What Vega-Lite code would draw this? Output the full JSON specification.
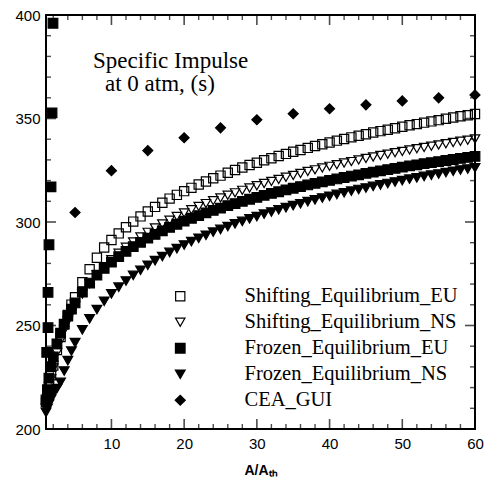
{
  "$schema": "https://vega.github.io/schema/vega-lite/v6.json",
  "width": 429,
  "height": 414,
  "autosize": "none",
  "padding": {"left": 46, "top": 15, "right": 11, "bottom": 49},
  "background": "white",
  "config": {
    "view": {"stroke": "black", "strokeWidth": 2},
    "axis": {"domain": false, "grid": false, "ticks": false, "title": null, "labelFont": "Liberation Sans", "labelFontSize": 15, "labelColor": "black", "labelOverlap": false}
  },
  "datasets": {
    "xmaj": [{"v":10},{"v":20},{"v":30},{"v":40},{"v":50}],
    "xmin": [{"v":2},{"v":4},{"v":6},{"v":8},{"v":12},{"v":14},{"v":16},{"v":18},{"v":22},{"v":24},{"v":26},{"v":28},{"v":32},{"v":34},{"v":36},{"v":38},{"v":42},{"v":44},{"v":46},{"v":48},{"v":52},{"v":54},{"v":56},{"v":58}],
    "ymaj": [{"v":250},{"v":300},{"v":350}],
    "ymin": [{"v":210},{"v":220},{"v":230},{"v":240},{"v":260},{"v":270},{"v":280},{"v":290},{"v":310},{"v":320},{"v":330},{"v":340},{"v":360},{"v":370},{"v":380},{"v":390}],
    "d": [
      {"s":"Shifting_Equilibrium_EU","x":1,"y":213},{"s":"Shifting_Equilibrium_EU","x":1.2,"y":217.2},{"s":"Shifting_Equilibrium_EU","x":1.4,"y":220.4},{"s":"Shifting_Equilibrium_EU","x":1.7,"y":226},{"s":"Shifting_Equilibrium_EU","x":2,"y":230.6},{"s":"Shifting_Equilibrium_EU","x":2.5,"y":238.2},{"s":"Shifting_Equilibrium_EU","x":3,"y":244.4},{"s":"Shifting_Equilibrium_EU","x":3.5,"y":250.6},{"s":"Shifting_Equilibrium_EU","x":4,"y":255.1},{"s":"Shifting_Equilibrium_EU","x":4.5,"y":260.1},{"s":"Shifting_Equilibrium_EU","x":5,"y":263.7},{"s":"Shifting_Equilibrium_EU","x":6,"y":270.9},{"s":"Shifting_Equilibrium_EU","x":7,"y":277.2},{"s":"Shifting_Equilibrium_EU","x":8,"y":282.7},{"s":"Shifting_Equilibrium_EU","x":9,"y":287.7},{"s":"Shifting_Equilibrium_EU","x":10,"y":291.3},{"s":"Shifting_Equilibrium_EU","x":11,"y":294.5},{"s":"Shifting_Equilibrium_EU","x":12,"y":297.5},{"s":"Shifting_Equilibrium_EU","x":13,"y":300.2},{"s":"Shifting_Equilibrium_EU","x":14,"y":302.7},{"s":"Shifting_Equilibrium_EU","x":15,"y":305.1},{"s":"Shifting_Equilibrium_EU","x":16,"y":307.3},{"s":"Shifting_Equilibrium_EU","x":17,"y":309.3},{"s":"Shifting_Equilibrium_EU","x":18,"y":311.3},{"s":"Shifting_Equilibrium_EU","x":19,"y":313.1},{"s":"Shifting_Equilibrium_EU","x":20,"y":314.9},{"s":"Shifting_Equilibrium_EU","x":21,"y":316.5},{"s":"Shifting_Equilibrium_EU","x":22,"y":318.1},{"s":"Shifting_Equilibrium_EU","x":23,"y":319.6},{"s":"Shifting_Equilibrium_EU","x":24,"y":321.1},{"s":"Shifting_Equilibrium_EU","x":25,"y":322.4},{"s":"Shifting_Equilibrium_EU","x":26,"y":323.8},{"s":"Shifting_Equilibrium_EU","x":27,"y":325.1},{"s":"Shifting_Equilibrium_EU","x":28,"y":326.3},{"s":"Shifting_Equilibrium_EU","x":29,"y":327.5},{"s":"Shifting_Equilibrium_EU","x":30,"y":328.6},{"s":"Shifting_Equilibrium_EU","x":31,"y":329.8},{"s":"Shifting_Equilibrium_EU","x":32,"y":330.8},{"s":"Shifting_Equilibrium_EU","x":33,"y":331.9},{"s":"Shifting_Equilibrium_EU","x":34,"y":332.9},{"s":"Shifting_Equilibrium_EU","x":35,"y":333.9},{"s":"Shifting_Equilibrium_EU","x":36,"y":334.8},{"s":"Shifting_Equilibrium_EU","x":37,"y":335.8},{"s":"Shifting_Equilibrium_EU","x":38,"y":336.7},{"s":"Shifting_Equilibrium_EU","x":39,"y":337.6},{"s":"Shifting_Equilibrium_EU","x":40,"y":338.4},{"s":"Shifting_Equilibrium_EU","x":41,"y":339.3},{"s":"Shifting_Equilibrium_EU","x":42,"y":340.1},{"s":"Shifting_Equilibrium_EU","x":43,"y":340.9},{"s":"Shifting_Equilibrium_EU","x":44,"y":341.7},{"s":"Shifting_Equilibrium_EU","x":45,"y":342.4},{"s":"Shifting_Equilibrium_EU","x":46,"y":343.2},{"s":"Shifting_Equilibrium_EU","x":47,"y":343.9},{"s":"Shifting_Equilibrium_EU","x":48,"y":344.6},{"s":"Shifting_Equilibrium_EU","x":49,"y":345.3},{"s":"Shifting_Equilibrium_EU","x":50,"y":346.0},{"s":"Shifting_Equilibrium_EU","x":51,"y":346.7},{"s":"Shifting_Equilibrium_EU","x":52,"y":347.3},{"s":"Shifting_Equilibrium_EU","x":53,"y":348.0},{"s":"Shifting_Equilibrium_EU","x":54,"y":348.6},{"s":"Shifting_Equilibrium_EU","x":55,"y":349.2},{"s":"Shifting_Equilibrium_EU","x":56,"y":349.9},{"s":"Shifting_Equilibrium_EU","x":57,"y":350.5},{"s":"Shifting_Equilibrium_EU","x":58,"y":351.1},{"s":"Shifting_Equilibrium_EU","x":59,"y":351.6},{"s":"Shifting_Equilibrium_EU","x":60,"y":352.2},
      {"s":"Shifting_Equilibrium_NS","x":1,"y":210},{"s":"Shifting_Equilibrium_NS","x":1.2,"y":214.9},{"s":"Shifting_Equilibrium_NS","x":1.4,"y":218.9},{"s":"Shifting_Equilibrium_NS","x":1.7,"y":224.2},{"s":"Shifting_Equilibrium_NS","x":2,"y":229.5},{"s":"Shifting_Equilibrium_NS","x":2.5,"y":236.8},{"s":"Shifting_Equilibrium_NS","x":3,"y":242.7},{"s":"Shifting_Equilibrium_NS","x":3.5,"y":247.7},{"s":"Shifting_Equilibrium_NS","x":4,"y":252.1},{"s":"Shifting_Equilibrium_NS","x":4.5,"y":255.9},{"s":"Shifting_Equilibrium_NS","x":5,"y":259.3},{"s":"Shifting_Equilibrium_NS","x":6,"y":265.2},{"s":"Shifting_Equilibrium_NS","x":7,"y":270.2},{"s":"Shifting_Equilibrium_NS","x":8,"y":274.6},{"s":"Shifting_Equilibrium_NS","x":9,"y":278.4},{"s":"Shifting_Equilibrium_NS","x":10,"y":281.8},{"s":"Shifting_Equilibrium_NS","x":11,"y":284.9},{"s":"Shifting_Equilibrium_NS","x":12,"y":287.8},{"s":"Shifting_Equilibrium_NS","x":13,"y":290.4},{"s":"Shifting_Equilibrium_NS","x":14,"y":292.8},{"s":"Shifting_Equilibrium_NS","x":15,"y":295.0},{"s":"Shifting_Equilibrium_NS","x":16,"y":297.1},{"s":"Shifting_Equilibrium_NS","x":17,"y":299.1},{"s":"Shifting_Equilibrium_NS","x":18,"y":300.9},{"s":"Shifting_Equilibrium_NS","x":19,"y":302.7},{"s":"Shifting_Equilibrium_NS","x":20,"y":304.4},{"s":"Shifting_Equilibrium_NS","x":21,"y":305.9},{"s":"Shifting_Equilibrium_NS","x":22,"y":307.5},{"s":"Shifting_Equilibrium_NS","x":23,"y":308.9},{"s":"Shifting_Equilibrium_NS","x":24,"y":310.3},{"s":"Shifting_Equilibrium_NS","x":25,"y":311.6},{"s":"Shifting_Equilibrium_NS","x":26,"y":312.9},{"s":"Shifting_Equilibrium_NS","x":27,"y":314.1},{"s":"Shifting_Equilibrium_NS","x":28,"y":315.3},{"s":"Shifting_Equilibrium_NS","x":29,"y":316.4},{"s":"Shifting_Equilibrium_NS","x":30,"y":317.5},{"s":"Shifting_Equilibrium_NS","x":31,"y":318.6},{"s":"Shifting_Equilibrium_NS","x":32,"y":319.6},{"s":"Shifting_Equilibrium_NS","x":33,"y":320.6},{"s":"Shifting_Equilibrium_NS","x":34,"y":321.6},{"s":"Shifting_Equilibrium_NS","x":35,"y":322.5},{"s":"Shifting_Equilibrium_NS","x":36,"y":323.5},{"s":"Shifting_Equilibrium_NS","x":37,"y":324.4},{"s":"Shifting_Equilibrium_NS","x":38,"y":325.2},{"s":"Shifting_Equilibrium_NS","x":39,"y":326.1},{"s":"Shifting_Equilibrium_NS","x":40,"y":326.9},{"s":"Shifting_Equilibrium_NS","x":41,"y":327.7},{"s":"Shifting_Equilibrium_NS","x":42,"y":328.5},{"s":"Shifting_Equilibrium_NS","x":43,"y":329.2},{"s":"Shifting_Equilibrium_NS","x":44,"y":330.0},{"s":"Shifting_Equilibrium_NS","x":45,"y":330.7},{"s":"Shifting_Equilibrium_NS","x":46,"y":331.4},{"s":"Shifting_Equilibrium_NS","x":47,"y":332.1},{"s":"Shifting_Equilibrium_NS","x":48,"y":332.8},{"s":"Shifting_Equilibrium_NS","x":49,"y":333.5},{"s":"Shifting_Equilibrium_NS","x":50,"y":334.1},{"s":"Shifting_Equilibrium_NS","x":51,"y":334.8},{"s":"Shifting_Equilibrium_NS","x":52,"y":335.4},{"s":"Shifting_Equilibrium_NS","x":53,"y":336.0},{"s":"Shifting_Equilibrium_NS","x":54,"y":336.6},{"s":"Shifting_Equilibrium_NS","x":55,"y":337.2},{"s":"Shifting_Equilibrium_NS","x":56,"y":337.8},{"s":"Shifting_Equilibrium_NS","x":57,"y":338.4},{"s":"Shifting_Equilibrium_NS","x":58,"y":339.0},{"s":"Shifting_Equilibrium_NS","x":59,"y":339.5},{"s":"Shifting_Equilibrium_NS","x":60,"y":340.1},
      {"s":"Frozen_Equilibrium_EU","x":1,"y":214},{"s":"Frozen_Equilibrium_EU","x":1.2,"y":219},{"s":"Frozen_Equilibrium_EU","x":1.4,"y":224.6},{"s":"Frozen_Equilibrium_EU","x":1.7,"y":230.1},{"s":"Frozen_Equilibrium_EU","x":2,"y":234.8},{"s":"Frozen_Equilibrium_EU","x":2.5,"y":241.1},{"s":"Frozen_Equilibrium_EU","x":3,"y":246.3},{"s":"Frozen_Equilibrium_EU","x":3.5,"y":250.7},{"s":"Frozen_Equilibrium_EU","x":4,"y":254.5},{"s":"Frozen_Equilibrium_EU","x":4.5,"y":257.9},{"s":"Frozen_Equilibrium_EU","x":5,"y":260.9},{"s":"Frozen_Equilibrium_EU","x":6,"y":266.1},{"s":"Frozen_Equilibrium_EU","x":7,"y":270.5},{"s":"Frozen_Equilibrium_EU","x":8,"y":274.3},{"s":"Frozen_Equilibrium_EU","x":9,"y":277.6},{"s":"Frozen_Equilibrium_EU","x":10,"y":280.6},{"s":"Frozen_Equilibrium_EU","x":11,"y":283.3},{"s":"Frozen_Equilibrium_EU","x":12,"y":285.8},{"s":"Frozen_Equilibrium_EU","x":13,"y":288.1},{"s":"Frozen_Equilibrium_EU","x":14,"y":290.2},{"s":"Frozen_Equilibrium_EU","x":15,"y":292.2},{"s":"Frozen_Equilibrium_EU","x":16,"y":294.0},{"s":"Frozen_Equilibrium_EU","x":17,"y":295.7},{"s":"Frozen_Equilibrium_EU","x":18,"y":297.4},{"s":"Frozen_Equilibrium_EU","x":19,"y":298.9},{"s":"Frozen_Equilibrium_EU","x":20,"y":300.4},{"s":"Frozen_Equilibrium_EU","x":21,"y":301.8},{"s":"Frozen_Equilibrium_EU","x":22,"y":303.1},{"s":"Frozen_Equilibrium_EU","x":23,"y":304.4},{"s":"Frozen_Equilibrium_EU","x":24,"y":305.6},{"s":"Frozen_Equilibrium_EU","x":25,"y":306.7},{"s":"Frozen_Equilibrium_EU","x":26,"y":307.9},{"s":"Frozen_Equilibrium_EU","x":27,"y":308.9},{"s":"Frozen_Equilibrium_EU","x":28,"y":310.0},{"s":"Frozen_Equilibrium_EU","x":29,"y":311.0},{"s":"Frozen_Equilibrium_EU","x":30,"y":311.9},{"s":"Frozen_Equilibrium_EU","x":31,"y":312.9},{"s":"Frozen_Equilibrium_EU","x":32,"y":313.8},{"s":"Frozen_Equilibrium_EU","x":33,"y":314.6},{"s":"Frozen_Equilibrium_EU","x":34,"y":315.5},{"s":"Frozen_Equilibrium_EU","x":35,"y":316.3},{"s":"Frozen_Equilibrium_EU","x":36,"y":317.1},{"s":"Frozen_Equilibrium_EU","x":37,"y":317.9},{"s":"Frozen_Equilibrium_EU","x":38,"y":318.7},{"s":"Frozen_Equilibrium_EU","x":39,"y":319.4},{"s":"Frozen_Equilibrium_EU","x":40,"y":320.1},{"s":"Frozen_Equilibrium_EU","x":41,"y":320.8},{"s":"Frozen_Equilibrium_EU","x":42,"y":321.5},{"s":"Frozen_Equilibrium_EU","x":43,"y":322.2},{"s":"Frozen_Equilibrium_EU","x":44,"y":322.8},{"s":"Frozen_Equilibrium_EU","x":45,"y":323.5},{"s":"Frozen_Equilibrium_EU","x":46,"y":324.1},{"s":"Frozen_Equilibrium_EU","x":47,"y":324.7},{"s":"Frozen_Equilibrium_EU","x":48,"y":325.3},{"s":"Frozen_Equilibrium_EU","x":49,"y":325.9},{"s":"Frozen_Equilibrium_EU","x":50,"y":326.5},{"s":"Frozen_Equilibrium_EU","x":51,"y":327.1},{"s":"Frozen_Equilibrium_EU","x":52,"y":327.6},{"s":"Frozen_Equilibrium_EU","x":53,"y":328.2},{"s":"Frozen_Equilibrium_EU","x":54,"y":328.7},{"s":"Frozen_Equilibrium_EU","x":55,"y":329.2},{"s":"Frozen_Equilibrium_EU","x":56,"y":329.7},{"s":"Frozen_Equilibrium_EU","x":57,"y":330.2},{"s":"Frozen_Equilibrium_EU","x":58,"y":330.7},{"s":"Frozen_Equilibrium_EU","x":59,"y":331.2},{"s":"Frozen_Equilibrium_EU","x":60,"y":331.7},
      {"s":"Frozen_Equilibrium_EU","x":1.96,"y":396},{"s":"Frozen_Equilibrium_EU","x":1.83,"y":352.7},{"s":"Frozen_Equilibrium_EU","x":1.69,"y":317},{"s":"Frozen_Equilibrium_EU","x":1.41,"y":289},{"s":"Frozen_Equilibrium_EU","x":1.28,"y":266},{"s":"Frozen_Equilibrium_EU","x":1.28,"y":249},{"s":"Frozen_Equilibrium_EU","x":1.1,"y":237},
      {"s":"Frozen_Equilibrium_NS","x":1,"y":208},{"s":"Frozen_Equilibrium_NS","x":1.2,"y":210},{"s":"Frozen_Equilibrium_NS","x":1.4,"y":212},{"s":"Frozen_Equilibrium_NS","x":1.7,"y":214.5},{"s":"Frozen_Equilibrium_NS","x":2,"y":217},{"s":"Frozen_Equilibrium_NS","x":2.5,"y":219.5},{"s":"Frozen_Equilibrium_NS","x":3,"y":222.5},{"s":"Frozen_Equilibrium_NS","x":3.5,"y":228},{"s":"Frozen_Equilibrium_NS","x":4,"y":233},{"s":"Frozen_Equilibrium_NS","x":4.5,"y":237.6},{"s":"Frozen_Equilibrium_NS","x":5,"y":241.7},{"s":"Frozen_Equilibrium_NS","x":6,"y":247.9},{"s":"Frozen_Equilibrium_NS","x":7,"y":253.2},{"s":"Frozen_Equilibrium_NS","x":8,"y":257.7},{"s":"Frozen_Equilibrium_NS","x":9,"y":261.7},{"s":"Frozen_Equilibrium_NS","x":10,"y":265.3},{"s":"Frozen_Equilibrium_NS","x":11,"y":268.5},{"s":"Frozen_Equilibrium_NS","x":12,"y":271.5},{"s":"Frozen_Equilibrium_NS","x":13,"y":274.2},{"s":"Frozen_Equilibrium_NS","x":14,"y":276.7},{"s":"Frozen_Equilibrium_NS","x":15,"y":279.1},{"s":"Frozen_Equilibrium_NS","x":16,"y":281.3},{"s":"Frozen_Equilibrium_NS","x":17,"y":283.3},{"s":"Frozen_Equilibrium_NS","x":18,"y":285.3},{"s":"Frozen_Equilibrium_NS","x":19,"y":287.1},{"s":"Frozen_Equilibrium_NS","x":20,"y":288.9},{"s":"Frozen_Equilibrium_NS","x":21,"y":290.5},{"s":"Frozen_Equilibrium_NS","x":22,"y":292.1},{"s":"Frozen_Equilibrium_NS","x":23,"y":293.6},{"s":"Frozen_Equilibrium_NS","x":24,"y":295.1},{"s":"Frozen_Equilibrium_NS","x":25,"y":296.4},{"s":"Frozen_Equilibrium_NS","x":26,"y":297.8},{"s":"Frozen_Equilibrium_NS","x":27,"y":299.1},{"s":"Frozen_Equilibrium_NS","x":28,"y":300.3},{"s":"Frozen_Equilibrium_NS","x":29,"y":301.5},{"s":"Frozen_Equilibrium_NS","x":30,"y":302.6},{"s":"Frozen_Equilibrium_NS","x":31,"y":303.8},{"s":"Frozen_Equilibrium_NS","x":32,"y":304.8},{"s":"Frozen_Equilibrium_NS","x":33,"y":305.9},{"s":"Frozen_Equilibrium_NS","x":34,"y":306.9},{"s":"Frozen_Equilibrium_NS","x":35,"y":307.9},{"s":"Frozen_Equilibrium_NS","x":36,"y":308.8},{"s":"Frozen_Equilibrium_NS","x":37,"y":309.8},{"s":"Frozen_Equilibrium_NS","x":38,"y":310.7},{"s":"Frozen_Equilibrium_NS","x":39,"y":311.6},{"s":"Frozen_Equilibrium_NS","x":40,"y":312.4},{"s":"Frozen_Equilibrium_NS","x":41,"y":313.3},{"s":"Frozen_Equilibrium_NS","x":42,"y":314.1},{"s":"Frozen_Equilibrium_NS","x":43,"y":314.9},{"s":"Frozen_Equilibrium_NS","x":44,"y":315.7},{"s":"Frozen_Equilibrium_NS","x":45,"y":316.4},{"s":"Frozen_Equilibrium_NS","x":46,"y":317.2},{"s":"Frozen_Equilibrium_NS","x":47,"y":317.9},{"s":"Frozen_Equilibrium_NS","x":48,"y":318.6},{"s":"Frozen_Equilibrium_NS","x":49,"y":319.3},{"s":"Frozen_Equilibrium_NS","x":50,"y":320.0},{"s":"Frozen_Equilibrium_NS","x":51,"y":320.7},{"s":"Frozen_Equilibrium_NS","x":52,"y":321.3},{"s":"Frozen_Equilibrium_NS","x":53,"y":322.0},{"s":"Frozen_Equilibrium_NS","x":54,"y":322.6},{"s":"Frozen_Equilibrium_NS","x":55,"y":323.2},{"s":"Frozen_Equilibrium_NS","x":56,"y":323.9},{"s":"Frozen_Equilibrium_NS","x":57,"y":324.5},{"s":"Frozen_Equilibrium_NS","x":58,"y":325.1},{"s":"Frozen_Equilibrium_NS","x":59,"y":325.6},{"s":"Frozen_Equilibrium_NS","x":60,"y":326.2},
      {"s":"CEA_GUI","x":5,"y":304.6},{"s":"CEA_GUI","x":10,"y":324.8},{"s":"CEA_GUI","x":15,"y":334.5},{"s":"CEA_GUI","x":20,"y":340.7},{"s":"CEA_GUI","x":25,"y":345.5},{"s":"CEA_GUI","x":30,"y":349.4},{"s":"CEA_GUI","x":35,"y":352.3},{"s":"CEA_GUI","x":40,"y":354.7},{"s":"CEA_GUI","x":45,"y":356.6},{"s":"CEA_GUI","x":50,"y":358.5},{"s":"CEA_GUI","x":55,"y":360},{"s":"CEA_GUI","x":60,"y":361.4}
    ]
  },
  "layer": [
    {
      "data": {"name": "d"},
      "mark": {"type": "point", "filled": true, "strokeWidth": 1.2, "opacity": 1},
      "encoding": {
        "x": {"field": "x", "type": "quantitative", "scale": {"domain": [1, 60], "nice": false, "zero": false},
              "axis": {"orient": "bottom", "values": [10, 20, 30, 40, 50, 60], "labelPadding": 7, "labelFlush": false,
                       "title": "A/Aₜₕ", "titleFont": "Liberation Sans", "titleFontSize": 14, "titleFontWeight": "bold", "titleColor": "black", "titlePadding": 12}},
        "y": {"field": "y", "type": "quantitative", "scale": {"domain": [200, 400], "nice": false, "zero": false},
              "axis": {"orient": "left", "values": [200, 250, 300, 350, 400], "labelPadding": 6, "labelFlush": false}},
        "shape": {"field": "s", "type": "nominal",
                  "scale": {"domain": ["Shifting_Equilibrium_EU", "Shifting_Equilibrium_NS", "Frozen_Equilibrium_EU", "Frozen_Equilibrium_NS", "CEA_GUI"],
                            "range": ["square", "triangle-down", "square", "triangle-down", "diamond"]},
                  "legend": {"title": null, "orient": "none", "legendX": 124, "legendY": 271, "padding": 0, "labelFont": "Liberation Serif", "labelFontSize": 20.5, "labelColor": "black", "labelOffset": 54, "rowPadding": 5, "symbolStrokeWidth": 1.2, "labelLimit": 400}},
        "fill": {"field": "s", "type": "nominal",
                 "scale": {"domain": ["Shifting_Equilibrium_EU", "Shifting_Equilibrium_NS", "Frozen_Equilibrium_EU", "Frozen_Equilibrium_NS", "CEA_GUI"],
                           "range": ["transparent", "transparent", "black", "black", "black"]},
                 "legend": {"title": null, "orient": "none", "legendX": 124, "legendY": 271, "padding": 0, "labelFont": "Liberation Serif", "labelFontSize": 20.5, "labelColor": "black", "labelOffset": 54, "rowPadding": 5, "symbolStrokeWidth": 1.2, "labelLimit": 400}},
        "stroke": {"field": "s", "type": "nominal",
                 "scale": {"domain": ["Shifting_Equilibrium_EU", "Shifting_Equilibrium_NS", "Frozen_Equilibrium_EU", "Frozen_Equilibrium_NS", "CEA_GUI"],
                           "range": ["black", "black", "black", "black", "black"]},
                 "legend": {"title": null, "orient": "none", "legendX": 124, "legendY": 271, "padding": 0, "labelFont": "Liberation Serif", "labelFontSize": 20.5, "labelColor": "black", "labelOffset": 54, "rowPadding": 5, "symbolStrokeWidth": 1.2, "labelLimit": 400}},
        "size": {"field": "s", "type": "nominal",
                 "scale": {"domain": ["Shifting_Equilibrium_EU", "Shifting_Equilibrium_NS", "Frozen_Equilibrium_EU", "Frozen_Equilibrium_NS", "CEA_GUI"],
                           "range": [85, 100, 85, 100, 169]},
                 "legend": {"title": null, "orient": "none", "legendX": 124, "legendY": 271, "padding": 0, "labelFont": "Liberation Serif", "labelFontSize": 20.5, "labelColor": "black", "labelOffset": 54, "rowPadding": 5, "symbolStrokeWidth": 1.2, "labelLimit": 400}}
      }
    },
    {
      "data": {"name": "xmaj"},
      "mark": {"type": "tick", "orient": "vertical", "color": "black", "size": 10, "thickness": 1.6, "yOffset": -5},
      "encoding": {"x": {"field": "v", "type": "quantitative"}, "y": {"datum": 200, "type": "quantitative"}}
    },
    {
      "data": {"name": "xmaj"},
      "mark": {"type": "tick", "orient": "vertical", "color": "black", "size": 10, "thickness": 1.6, "yOffset": 5},
      "encoding": {"x": {"field": "v", "type": "quantitative"}, "y": {"datum": 400, "type": "quantitative"}}
    },
    {
      "data": {"name": "xmin"},
      "mark": {"type": "tick", "orient": "vertical", "color": "black", "size": 5, "thickness": 1.4, "yOffset": -2.5},
      "encoding": {"x": {"field": "v", "type": "quantitative"}, "y": {"datum": 200, "type": "quantitative"}}
    },
    {
      "data": {"name": "xmin"},
      "mark": {"type": "tick", "orient": "vertical", "color": "black", "size": 5, "thickness": 1.4, "yOffset": 2.5},
      "encoding": {"x": {"field": "v", "type": "quantitative"}, "y": {"datum": 400, "type": "quantitative"}}
    },
    {
      "data": {"name": "ymaj"},
      "mark": {"type": "tick", "orient": "horizontal", "color": "black", "size": 10, "thickness": 1.6, "xOffset": 5},
      "encoding": {"y": {"field": "v", "type": "quantitative"}, "x": {"datum": 1, "type": "quantitative"}}
    },
    {
      "data": {"name": "ymaj"},
      "mark": {"type": "tick", "orient": "horizontal", "color": "black", "size": 10, "thickness": 1.6, "xOffset": -5},
      "encoding": {"y": {"field": "v", "type": "quantitative"}, "x": {"datum": 60, "type": "quantitative"}}
    },
    {
      "data": {"name": "ymin"},
      "mark": {"type": "tick", "orient": "horizontal", "color": "black", "size": 5, "thickness": 1.4, "xOffset": 2.5},
      "encoding": {"y": {"field": "v", "type": "quantitative"}, "x": {"datum": 1, "type": "quantitative"}}
    },
    {
      "data": {"name": "ymin"},
      "mark": {"type": "tick", "orient": "horizontal", "color": "black", "size": 5, "thickness": 1.4, "xOffset": -2.5},
      "encoding": {"y": {"field": "v", "type": "quantitative"}, "x": {"datum": 60, "type": "quantitative"}}
    },
    {
      "data": {"values": [{}]},
      "mark": {"type": "text", "font": "Liberation Serif", "fontSize": 23, "align": "left", "baseline": "alphabetic", "color": "black"},
      "encoding": {
        "x": {"datum": 7.46, "type": "quantitative"},
        "y": {"datum": 374.4, "type": "quantitative"},
        "text": {"value": "Specific Impulse"}
      }
    },
    {
      "data": {"values": [{}]},
      "mark": {"type": "text", "font": "Liberation Serif", "fontSize": 23, "align": "left", "baseline": "alphabetic", "color": "black"},
      "encoding": {
        "x": {"datum": 9.11, "type": "quantitative"},
        "y": {"datum": 363.3, "type": "quantitative"},
        "text": {"value": "at 0 atm, (s)"}
      }
    }
  ]
}
